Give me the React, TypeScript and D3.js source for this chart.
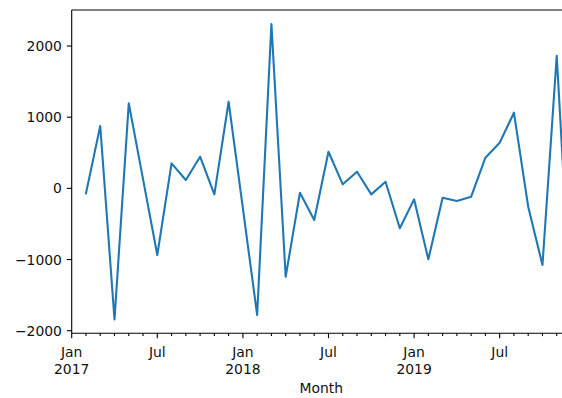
import React from "react";
import * as d3 from "d3";

// Monthly change, Feb 2017 – Dec 2019 (Jan 2017 has no prior month)
const months: string[] = [
  "2017-02", "2017-03", "2017-04", "2017-05", "2017-06", "2017-07", "2017-08", "2017-09", "2017-10", "2017-11", "2017-12",
  "2018-01", "2018-02", "2018-03", "2018-04", "2018-05", "2018-06", "2018-07", "2018-08", "2018-09", "2018-10", "2018-11", "2018-12",
  "2019-01", "2019-02", "2019-03", "2019-04", "2019-05", "2019-06", "2019-07", "2019-08", "2019-09", "2019-10", "2019-11", "2019-12",
];
const values: number[] = [
  -70, 876, -1840, 1195, 130, -936, 352, 117, 445, -84, 1217,
  -281, -1779, 2309, -1241, -61, -445, 515, 57, 234, -84, 93, -561,
  -154, -997, -131, -178, -117, 431, 641, 1063, -258, -1077, 1864, -1700,
];

const yTicks: number[] = [2000, 1000, 0, -1000, -2000];
const monthNames = ["Jan", "Feb", "Mar", "Apr", "May", "Jun", "Jul", "Aug", "Sep", "Oct", "Nov", "Dec"];
const firstMonth = "2017-01";
const lastMonth = "2019-12";

const W = 562;
const H = 398;
const left = 71.7;
const right = 571;
const top = 10;
const bottom = 333.3;
const FONT = "'DejaVu Sans', sans-serif";
const FS = 13.9;

function monthIndex(key: string): number {
  const [y, m] = key.split("-").map(Number);
  const [y0, m0] = firstMonth.split("-").map(Number);
  return (y - y0) * 12 + (m - m0);
}

export default function App() {
  const x = d3.scaleLinear().domain([0, monthIndex(lastMonth)]).range([left, right]);
  const y = d3.scaleLinear().domain([-2036, 2506]).range([bottom, top]);

  const data = months.map((k, i) => ({ i: monthIndex(k), v: values[i] }));
  const line = d3
    .line<{ i: number; v: number }>()
    .x((d) => x(d.i))
    .y((d) => y(d.v));

  const allMonths = d3.range(0, monthIndex(lastMonth) + 1);
  const [y0] = firstMonth.split("-").map(Number);

  const majorLen = 4.86;
  const minorLen = 2.8;
  const fmt = (v: number) => (v < 0 ? "\u2212" + Math.abs(v) : String(v));

  return (
    <svg
      width={W}
      height={H}
      style={{ position: "absolute", left: 0, top: 0, background: "#fff" }}
      fontFamily={FONT}
      fontSize={FS}
    >
      <defs>
        <clipPath id="plot-area">
          <rect x={left} y={top} width={right - left} height={bottom - top} />
        </clipPath>
      </defs>
      <rect x={0} y={0} width={W} height={H} fill="#fff" />

      <path
        d={line(data) || ""}
        fill="none"
        stroke="#1f77b4"
        strokeWidth={2.1}
        strokeLinejoin="round"
        strokeLinecap="square"
        clipPath="url(#plot-area)"
      />

      {/* spines */}
      <g stroke="#000" strokeWidth={1.1} fill="none">
        <line x1={left} y1={top} x2={right} y2={top} />
        <line x1={left} y1={bottom} x2={right} y2={bottom} />
        <line x1={left} y1={top} x2={left} y2={bottom} />
        <line x1={right} y1={top} x2={right} y2={bottom} />
      </g>

      {/* y axis */}
      {yTicks.map((t) => (
        <g key={t}>
          <line x1={left - majorLen} x2={left} y1={y(t)} y2={y(t)} stroke="#000" strokeWidth={1.1} />
          <text x={left - majorLen - 4.9} y={y(t)} dy="0.36em" textAnchor="end" fill="#111">
            {fmt(t)}
          </text>
        </g>
      ))}

      {/* x axis: major ticks at Jan/Jul, minor every month */}
      {allMonths.map((mi) => {
        const m = mi % 12;
        const major = m === 0 || m === 6;
        const px = x(mi);
        return (
          <g key={mi}>
            <line
              x1={px}
              x2={px}
              y1={bottom}
              y2={bottom + (major ? majorLen : minorLen)}
              stroke="#000"
              strokeWidth={1.1}
            />
            {major && (
              <text x={px} y={357} textAnchor="middle" fill="#111">
                <tspan x={px}>{monthNames[m]}</tspan>
                {m === 0 && (
                  <tspan x={px} dy={16.7}>
                    {y0 + Math.floor(mi / 12)}
                  </tspan>
                )}
              </text>
            )}
          </g>
        );
      })}

      <text x={(left + right) / 2} y={393} textAnchor="middle" fill="#111">
        Month
      </text>
    </svg>
  );
}
